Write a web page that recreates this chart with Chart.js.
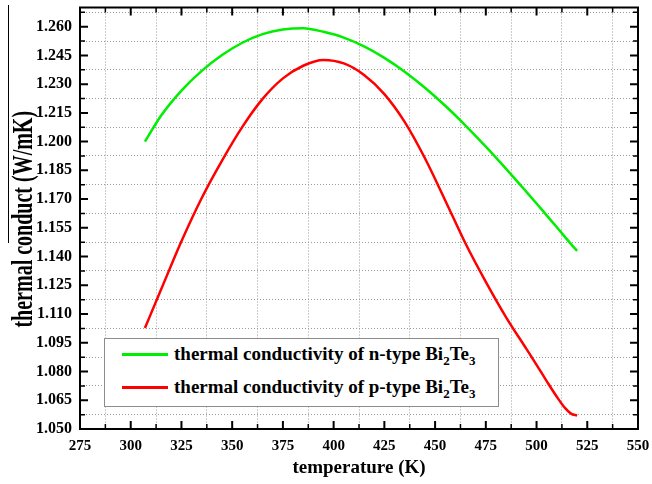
<!DOCTYPE html>
<html>
<head>
<meta charset="utf-8">
<title>thermal conductivity of Bi2Te3</title>
<script src="https://cdn.jsdelivr.net/npm/chart.js@4.4.0/dist/chart.umd.min.js"></script>
<style>
  html, body { margin: 0; padding: 0; background: #fff; }
  #wrap { position: relative; width: 652px; height: 484px; }
  #legend {
    position: absolute; left: 104px; top: 338px; width: 393px; height: 67px;
    border: 1px solid #8c8c8c; background: #fff;
    font: bold 19px "Liberation Serif", "Times New Roman", serif; color: #000;
  }
  #legend .row { position: absolute; left: 0; height: 22px; line-height: 22px; white-space: nowrap; }
  #legend .swatch { position: absolute; left: 17px; top: 10px; width: 46px; height: 2.5px; }
  #legend .txt { position: absolute; left: 69px; top: 0; }
  #legend sub { font-size: 13px; vertical-align: -5px; line-height: 0; }
</style>
</head>
<body>
<div id="wrap">
  <canvas id="chart" width="652" height="484"></canvas>
  <div id="legend"></div>
</div>
<script>
// datos
const temperature = [307, 315, 325, 335, 345, 355, 365, 375, 385, 395, 405, 415,
                     425, 435, 445, 455, 465, 475, 485, 495, 500, 505, 510, 514, 517, 520];
const nTypeK = [1.2000, 1.2136, 1.2266, 1.2369, 1.2452, 1.2516, 1.2561, 1.2585, 1.2592, 1.2573, 1.2543, 1.2497,
                1.2437, 1.2365, 1.2281, 1.2187, 1.2084, 1.1974, 1.1858, 1.1738, 1.1677, 1.1615, 1.1553, 1.1503, 1.1465, 1.1430];
const pTypeK = [1.1027, 1.1229, 1.1480, 1.1706, 1.1901, 1.2077, 1.2223, 1.2330, 1.2396, 1.2426, 1.2408, 1.2348,
                1.2248, 1.2103, 1.1913, 1.1693, 1.1468, 1.1268, 1.1083, 1.0918, 1.0835, 1.0750, 1.0668, 1.0610, 1.0580, 1.0570];
const seriesNames = ['thermal conductivity of n-type Bi<sub>2</sub>Te<sub>3</sub>',
                     'thermal conductivity of p-type Bi<sub>2</sub>Te<sub>3</sub>'];
const seriesColors = ['#00ee00', '#ff0000'];

// ejes
const xMin = 275, xMax = 550, xStep = 25;
const yMin = 1.05, yMax = 1.27, yStep = 0.015;
const xTitle = 'temperature (K)';
const yTitle = 'thermal conduct (W/mK)';

const serif = '"Liberation Serif", "Times New Roman", serif';

// ticks hacia dentro + marco + titulo Y
const framePlugin = {
  id: 'frame',
  afterDatasetsDraw(chart) {
    const { ctx, chartArea: a, scales: { x, y } } = chart;
    ctx.save();
    ctx.strokeStyle = '#000';
    ctx.lineCap = 'butt';
    const xt = x.ticks.map(t => t.value);
    const yt = y.ticks.map(t => t.value);
    const mark = (px, len, horiz) => {
      ctx.beginPath();
      if (horiz) {
        ctx.moveTo(px, a.bottom); ctx.lineTo(px, a.bottom - len);
        ctx.moveTo(px, a.top); ctx.lineTo(px, a.top + len);
      } else {
        ctx.moveTo(a.left, px); ctx.lineTo(a.left + len, px);
        ctx.moveTo(a.right, px); ctx.lineTo(a.right - len, px);
      }
      ctx.stroke();
    };
    ctx.lineWidth = 2;
    xt.forEach(v => mark(x.getPixelForValue(v), 8, true));
    yt.forEach(v => mark(y.getPixelForValue(v), 8, false));
    ctx.lineWidth = 1.5;
    for (let i = 0; i < xt.length - 1; i++) mark(x.getPixelForValue((xt[i] + xt[i + 1]) / 2), 5, true);
    for (let i = 0; i < yt.length; i++) {
      const v = yt[i] + yStep / 2;
      if (v < yMax) mark(y.getPixelForValue(v), 5, false);
    }
    ctx.lineWidth = 2;
    ctx.strokeRect(a.left, a.top, a.right - a.left, a.bottom - a.top);

    // titulo del eje Y (letra alta como en la figura)
    const cy = (a.top + a.bottom) / 2 + 1;
    ctx.translate(31.5, cy);
    ctx.scale(1.5, 1);
    ctx.rotate(-Math.PI / 2);
    ctx.fillStyle = '#000';
    ctx.font = 'bold 20px ' + serif;
    ctx.textAlign = 'center';
    ctx.textBaseline = 'alphabetic';
    ctx.fillText(yTitle, 0, 0);
    ctx.setTransform(1, 0, 0, 1, 0, 0);
    // raya sobre el titulo
    ctx.lineWidth = 1;
    ctx.beginPath();
    ctx.moveTo(8.5, 5); ctx.lineTo(8.5, 243);
    ctx.stroke();
    ctx.restore();
  }
};

const ctx = document.getElementById('chart').getContext('2d');
const chart = new Chart(ctx, {
  type: 'line',
  data: {
    datasets: [
      { label: 'n-type', data: temperature.map((t, i) => ({ x: t, y: nTypeK[i] })),
        borderColor: seriesColors[0], borderWidth: 2.5, pointRadius: 0, fill: false, cubicInterpolationMode: 'monotone' },
      { label: 'p-type', data: temperature.map((t, i) => ({ x: t, y: pTypeK[i] })),
        borderColor: seriesColors[1], borderWidth: 2.5, pointRadius: 0, fill: false, cubicInterpolationMode: 'monotone' }
    ]
  },
  options: {
    responsive: false, animation: false,
    layout: { padding: { left: 0, top: 7.5, right: 14, bottom: 0 } },
    plugins: { legend: { display: false }, tooltip: { enabled: false } },
    scales: {
      x: {
        type: 'linear', min: xMin, max: xMax,
        afterFit: s => { s.height = 55; s.paddingLeft = 0; s.paddingRight = 0; },
        ticks: { stepSize: xStep, color: '#000', padding: 8, maxRotation: 0, autoSkip: false,
                 font: { family: serif, size: 15, weight: 'bold' } },
        grid: { offset: true, drawTicks: false, color: '#9a9a9a', lineWidth: 1 },
        border: { display: false, dash: [1, 2] },
        title: { display: true, text: xTitle, color: '#000', padding: { top: 0, bottom: 5 },
                 font: { family: serif, size: 19, weight: 'bold' } }
      },
      y: {
        type: 'linear', min: yMin, max: yMax,
        afterFit: s => { s.width = 80; s.paddingTop = 0; s.paddingBottom = 0; },
        ticks: { stepSize: yStep, includeBounds: false, color: '#000', padding: 8, autoSkip: false,
                 callback: v => v.toFixed(3),
                 font: { family: serif, size: 16, weight: 'bold' } },
        grid: { offset: true, drawTicks: false, color: '#9a9a9a', lineWidth: 1 },
        border: { display: false, dash: [1, 2] },
        title: { display: false, text: yTitle }
      }
    }
  },
  plugins: [framePlugin]
});

// leyenda
const legendEl = document.getElementById('legend');
seriesNames.forEach((name, i) => {
  const row = document.createElement('div');
  row.className = 'row';
  row.style.top = (4 + i * 33) + 'px';
  row.innerHTML = `<span class="swatch" style="background:${seriesColors[i]}"></span><span class="txt">${name}</span>`;
  legendEl.appendChild(row);
});
</script>
</body>
</html>
